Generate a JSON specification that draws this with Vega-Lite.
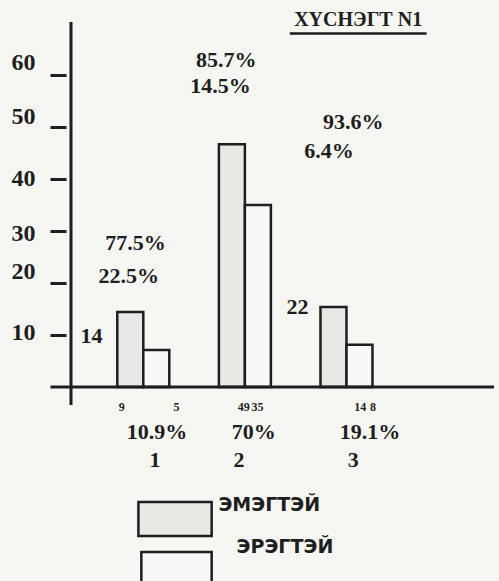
{
  "$schema": "https://vega.github.io/schema/vega-lite/v6.json",
  "width": 433,
  "height": 581,
  "autosize": {"type": "none"},
  "padding": {"left": 66, "top": 0, "right": 0, "bottom": 0},
  "background": "#f6f6f3",
  "config": {
    "view": {"stroke": null},
    "axisY": {
      "domain": false, "grid": false, "title": null,
      "tickSize": 16, "tickWidth": 3, "tickColor": "#1e1e1e",
      "labelFont": "Liberation Serif", "labelFontWeight": "bold", "labelFontSize": 24,
      "labelColor": "#1e1e1e", "labelPadding": 15
    }
  },
  "datasets": {
    "bars": [
      {"group": 1, "sex": "ЭМЭГТЭЙ", "count": 9, "value": 14.4},
      {"group": 1, "sex": "ЭРЭГТЭЙ", "count": 5, "value": 7.1},
      {"group": 2, "sex": "ЭМЭГТЭЙ", "count": 49, "value": 46.7},
      {"group": 2, "sex": "ЭРЭГТЭЙ", "count": 35, "value": 35},
      {"group": 3, "sex": "ЭМЭГТЭЙ", "count": 14, "value": 15.4},
      {"group": 3, "sex": "ЭРЭГТЭЙ", "count": 8, "value": 8.1}
    ],
    "notes": [
      {"label": "85.7%", "kind": "big", "x": 1.817, "y": 62.9},
      {"label": "14.5%", "kind": "big", "x": 1.76, "y": 57.9},
      {"label": "93.6%", "kind": "big", "x": 3.067, "y": 51.0},
      {"label": "6.4%", "kind": "big", "x": 2.827, "y": 45.4},
      {"label": "77.5%", "kind": "big", "x": 0.923, "y": 27.7},
      {"label": "22.5%", "kind": "big", "x": 0.856, "y": 21.35},
      {"label": "14", "kind": "big", "x": 0.49, "y": 9.8},
      {"label": "22", "kind": "big", "x": 2.519, "y": 15.4},
      {"label": "10.9%", "kind": "big", "x": 1.135, "y": -8.65},
      {"label": "70%", "kind": "big", "x": 2.087, "y": -8.65},
      {"label": "19.1%", "kind": "big", "x": 3.231, "y": -8.65},
      {"label": "1", "kind": "big", "x": 1.115, "y": -14.04},
      {"label": "2", "kind": "big", "x": 1.942, "y": -14.04},
      {"label": "3", "kind": "big", "x": 3.067, "y": -14.04},
      {"label": "9", "kind": "small", "x": 0.788, "y": -3.85},
      {"label": "5", "kind": "small", "x": 1.327, "y": -3.85},
      {"label": "49", "kind": "small", "x": 1.99, "y": -3.85},
      {"label": "35", "kind": "small", "x": 2.125, "y": -3.85},
      {"label": "14", "kind": "small", "x": 3.135, "y": -3.85},
      {"label": "8", "kind": "small", "x": 3.26, "y": -3.85}
    ],
    "legendText": [
      {"label": "ЭМЭГТЭЙ", "x": 2.24, "y": -22.7},
      {"label": "ЭРЭГТЭЙ", "x": 2.394, "y": -30.8}
    ],
    "one": [{}]
  },
  "layer": [
    {
      "data": {"name": "bars"},
      "transform": [{"filter": "datum.sex == 'ЭМЭГТЭЙ'"}],
      "mark": {"type": "bar", "width": 26, "xOffset": -13, "fill": "#e8e8e4", "stroke": "#1e1e1e", "strokeWidth": 2.5},
      "encoding": {
        "x": {"field": "group", "type": "quantitative", "scale": {"domain": [0.2885, 4.452], "nice": false, "zero": false}, "axis": null},
        "y": {"field": "value", "type": "quantitative", "scale": {"domain": [-37.31, 74.42], "nice": false, "zero": false}, "title": null,
          "axis": {"values": [10, 20, 30, 40, 50, 60], "labelOffset": {"condition": [
              {"test": "datum.value == 60", "value": -12},
              {"test": "datum.value == 50", "value": -10},
              {"test": "datum.value == 30", "value": 3},
              {"test": "datum.value == 20", "value": -11},
              {"test": "datum.value == 10", "value": -2}
            ], "value": 0}}},
        "y2": {"datum": 0}
      }
    },
    {
      "data": {"name": "bars"},
      "transform": [{"filter": "datum.sex == 'ЭРЭГТЭЙ'"}],
      "mark": {"type": "bar", "width": 26, "xOffset": 13, "fill": "#f8f8f6", "stroke": "#1e1e1e", "strokeWidth": 2.5},
      "encoding": {
        "x": {"field": "group", "type": "quantitative", "scale": {"domain": [0.2885, 4.452], "nice": false, "zero": false}, "axis": null},
        "y": {"field": "value", "type": "quantitative", "scale": {"domain": [-37.31, 74.42], "nice": false, "zero": false}, "title": null,
          "axis": {"values": [10, 20, 30, 40, 50, 60], "labelOffset": {"condition": [
              {"test": "datum.value == 60", "value": -12},
              {"test": "datum.value == 50", "value": -10},
              {"test": "datum.value == 30", "value": 3},
              {"test": "datum.value == 20", "value": -11},
              {"test": "datum.value == 10", "value": -2}
            ], "value": 0}}},
        "y2": {"datum": 0}
      }
    },
    {
      "data": {"name": "one"},
      "mark": {"type": "rule", "stroke": "#1e1e1e", "strokeWidth": 3},
      "encoding": {
        "x": {"datum": 0.2885, "type": "quantitative", "scale": {"domain": [0.2885, 4.452], "nice": false, "zero": false}, "axis": null},
        "y": {"datum": 70.2, "type": "quantitative", "scale": {"domain": [-37.31, 74.42], "nice": false, "zero": false}, "title": null,
          "axis": {"values": [10, 20, 30, 40, 50, 60], "labelOffset": {"condition": [
              {"test": "datum.value == 60", "value": -12},
              {"test": "datum.value == 50", "value": -10},
              {"test": "datum.value == 30", "value": 3},
              {"test": "datum.value == 20", "value": -11},
              {"test": "datum.value == 10", "value": -2}
            ], "value": 0}}},
        "y2": {"datum": -3.46}
      }
    },
    {
      "data": {"name": "one"},
      "mark": {"type": "rule", "stroke": "#1e1e1e", "strokeWidth": 3},
      "encoding": {
        "x": {"datum": 0.0865, "type": "quantitative", "scale": {"domain": [0.2885, 4.452], "nice": false, "zero": false}, "axis": null},
        "x2": {"datum": 4.452},
        "y": {"datum": 0, "type": "quantitative", "scale": {"domain": [-37.31, 74.42], "nice": false, "zero": false}, "title": null,
          "axis": {"values": [10, 20, 30, 40, 50, 60], "labelOffset": {"condition": [
              {"test": "datum.value == 60", "value": -12},
              {"test": "datum.value == 50", "value": -10},
              {"test": "datum.value == 30", "value": 3},
              {"test": "datum.value == 20", "value": -11},
              {"test": "datum.value == 10", "value": -2}
            ], "value": 0}}}
      }
    },
    {
      "data": {"name": "notes"},
      "transform": [{"filter": "datum.kind == 'big'"}],
      "mark": {"type": "text", "font": "Liberation Serif", "fontWeight": "bold", "fontSize": 22, "fill": "#1e1e1e", "align": "center", "baseline": "middle"},
      "encoding": {
        "x": {"field": "x", "type": "quantitative", "scale": {"domain": [0.2885, 4.452], "nice": false, "zero": false}, "axis": null},
        "y": {"field": "y", "type": "quantitative", "scale": {"domain": [-37.31, 74.42], "nice": false, "zero": false}, "title": null,
          "axis": {"values": [10, 20, 30, 40, 50, 60], "labelOffset": {"condition": [
              {"test": "datum.value == 60", "value": -12},
              {"test": "datum.value == 50", "value": -10},
              {"test": "datum.value == 30", "value": 3},
              {"test": "datum.value == 20", "value": -11},
              {"test": "datum.value == 10", "value": -2}
            ], "value": 0}}},
        "text": {"field": "label"}
      }
    },
    {
      "data": {"name": "notes"},
      "transform": [{"filter": "datum.kind == 'small'"}],
      "mark": {"type": "text", "font": "Liberation Serif", "fontWeight": "bold", "fontSize": 12, "fill": "#1e1e1e", "align": "center", "baseline": "middle"},
      "encoding": {
        "x": {"field": "x", "type": "quantitative", "scale": {"domain": [0.2885, 4.452], "nice": false, "zero": false}, "axis": null},
        "y": {"field": "y", "type": "quantitative", "scale": {"domain": [-37.31, 74.42], "nice": false, "zero": false}, "title": null,
          "axis": {"values": [10, 20, 30, 40, 50, 60], "labelOffset": {"condition": [
              {"test": "datum.value == 60", "value": -12},
              {"test": "datum.value == 50", "value": -10},
              {"test": "datum.value == 30", "value": 3},
              {"test": "datum.value == 20", "value": -11},
              {"test": "datum.value == 10", "value": -2}
            ], "value": 0}}},
        "text": {"field": "label"}
      }
    },
    {
      "data": {"name": "one"},
      "mark": {"type": "text", "font": "Liberation Serif", "fontWeight": "bold", "fontSize": 20, "fill": "#1e1e1e", "align": "center", "baseline": "middle", "text": "ХҮСНЭГТ N1"},
      "encoding": {
        "x": {"datum": 3.115, "type": "quantitative", "scale": {"domain": [0.2885, 4.452], "nice": false, "zero": false}, "axis": null},
        "y": {"datum": 70.58, "type": "quantitative", "scale": {"domain": [-37.31, 74.42], "nice": false, "zero": false}, "title": null,
          "axis": {"values": [10, 20, 30, 40, 50, 60], "labelOffset": {"condition": [
              {"test": "datum.value == 60", "value": -12},
              {"test": "datum.value == 50", "value": -10},
              {"test": "datum.value == 30", "value": 3},
              {"test": "datum.value == 20", "value": -11},
              {"test": "datum.value == 10", "value": -2}
            ], "value": 0}}}
      }
    },
    {
      "data": {"name": "one"},
      "mark": {"type": "rule", "stroke": "#1e1e1e", "strokeWidth": 2.5},
      "encoding": {
        "x": {"datum": 2.442, "type": "quantitative", "scale": {"domain": [0.2885, 4.452], "nice": false, "zero": false}, "axis": null},
        "x2": {"datum": 3.788},
        "y": {"datum": 68.0, "type": "quantitative", "scale": {"domain": [-37.31, 74.42], "nice": false, "zero": false}, "title": null,
          "axis": {"values": [10, 20, 30, 40, 50, 60], "labelOffset": {"condition": [
              {"test": "datum.value == 60", "value": -12},
              {"test": "datum.value == 50", "value": -10},
              {"test": "datum.value == 30", "value": 3},
              {"test": "datum.value == 20", "value": -11},
              {"test": "datum.value == 10", "value": -2}
            ], "value": 0}}}
      }
    },
    {
      "data": {"name": "one"},
      "mark": {"type": "rect", "fill": "#e8e8e4", "stroke": "#1e1e1e", "strokeWidth": 2.5},
      "encoding": {
        "x": {"datum": 0.952, "type": "quantitative", "scale": {"domain": [0.2885, 4.452], "nice": false, "zero": false}, "axis": null},
        "x2": {"datum": 1.673},
        "y": {"datum": -22.12, "type": "quantitative", "scale": {"domain": [-37.31, 74.42], "nice": false, "zero": false}, "title": null,
          "axis": {"values": [10, 20, 30, 40, 50, 60], "labelOffset": {"condition": [
              {"test": "datum.value == 60", "value": -12},
              {"test": "datum.value == 50", "value": -10},
              {"test": "datum.value == 30", "value": 3},
              {"test": "datum.value == 20", "value": -11},
              {"test": "datum.value == 10", "value": -2}
            ], "value": 0}}},
        "y2": {"datum": -28.65}
      }
    },
    {
      "data": {"name": "one"},
      "mark": {"type": "rect", "fill": "#f8f8f6", "stroke": "#1e1e1e", "strokeWidth": 2.5},
      "encoding": {
        "x": {"datum": 0.981, "type": "quantitative", "scale": {"domain": [0.2885, 4.452], "nice": false, "zero": false}, "axis": null},
        "x2": {"datum": 1.673},
        "y": {"datum": -31.73, "type": "quantitative", "scale": {"domain": [-37.31, 74.42], "nice": false, "zero": false}, "title": null,
          "axis": {"values": [10, 20, 30, 40, 50, 60], "labelOffset": {"condition": [
              {"test": "datum.value == 60", "value": -12},
              {"test": "datum.value == 50", "value": -10},
              {"test": "datum.value == 30", "value": 3},
              {"test": "datum.value == 20", "value": -11},
              {"test": "datum.value == 10", "value": -2}
            ], "value": 0}}},
        "y2": {"datum": -40}
      }
    },
    {
      "data": {"name": "legendText"},
      "mark": {"type": "text", "font": "DejaVu Sans", "fontWeight": "bold", "fontSize": 19, "fill": "#1e1e1e", "align": "center", "baseline": "middle"},
      "encoding": {
        "x": {"field": "x", "type": "quantitative", "scale": {"domain": [0.2885, 4.452], "nice": false, "zero": false}, "axis": null},
        "y": {"field": "y", "type": "quantitative", "scale": {"domain": [-37.31, 74.42], "nice": false, "zero": false}, "title": null,
          "axis": {"values": [10, 20, 30, 40, 50, 60], "labelOffset": {"condition": [
              {"test": "datum.value == 60", "value": -12},
              {"test": "datum.value == 50", "value": -10},
              {"test": "datum.value == 30", "value": 3},
              {"test": "datum.value == 20", "value": -11},
              {"test": "datum.value == 10", "value": -2}
            ], "value": 0}}},
        "text": {"field": "label"}
      }
    }
  ]
}
